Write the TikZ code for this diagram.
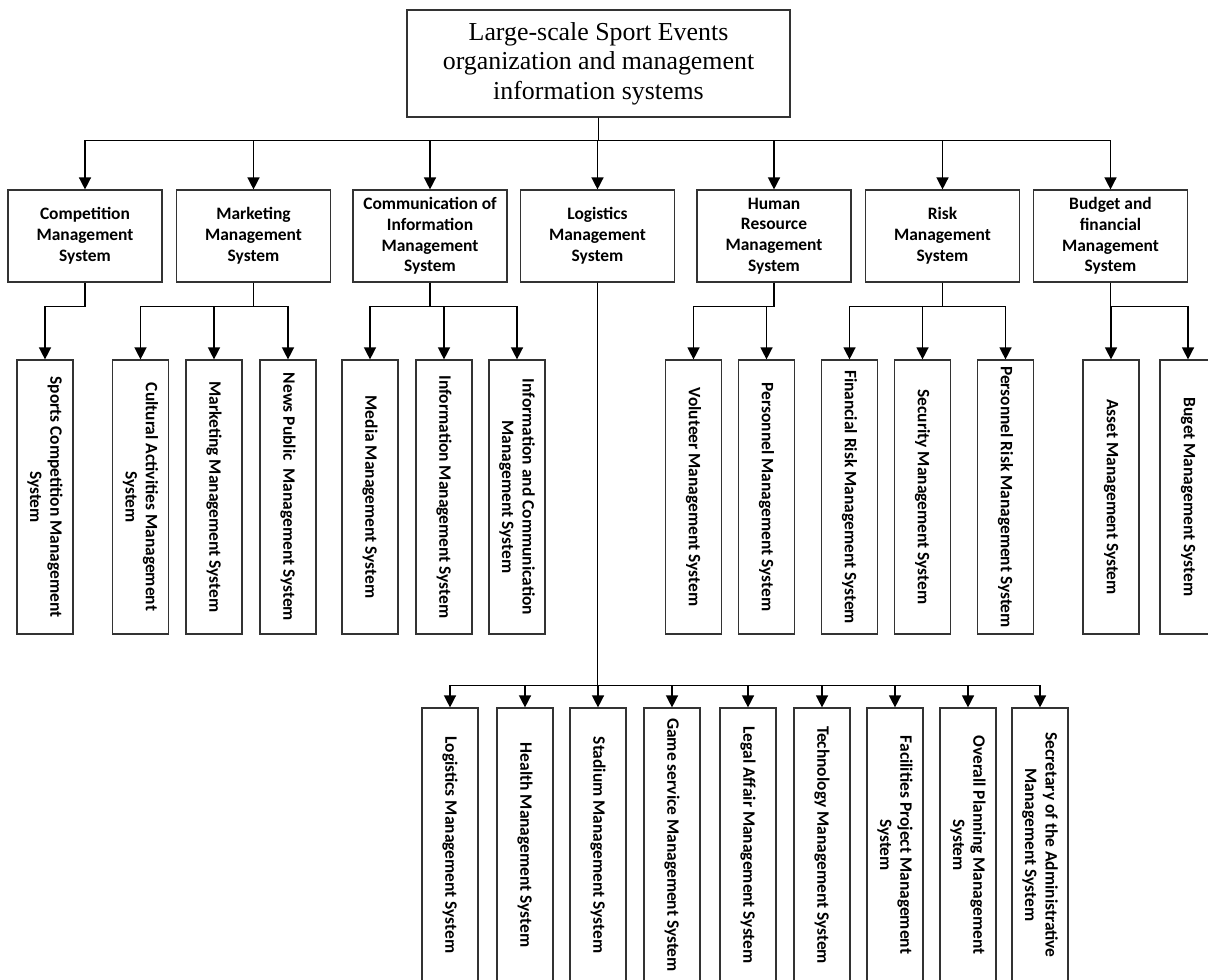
\documentclass[tikz,border=0pt]{standalone}
\usepackage{fontspec}
\setmainfont{Liberation Serif}
\newfontfamily\calibri{Carlito}
\usetikzlibrary{arrows.meta, positioning}

\begin{document}
\begin{tikzpicture}[
        x = 0.025cm, y = -0.025cm,
        every node/.style = {rectangle, draw=black!80, line width=0.8pt, align=center, inner sep=2pt},
        root/.style = {minimum width=9.575cm, minimum height=2.675cm, font=\fontsize{18.4}{21}\selectfont},
        branch/.style = {minimum width=3.85cm, minimum height=2.3cm, font=\calibri\bfseries\fontsize{12.4}{14.8}\selectfont},
        leaf/.style = {rotate=-90, minimum width=6.85cm, minimum height=1.4cm, font=\calibri\bfseries\fontsize{12.4}{14.5}\selectfont},
        line/.style = {draw, line width=1pt, -{Triangle[width=0.3cm, length=0.3cm]}}
    ]
    \useasboundingbox (0,0) rectangle (1208,979);

    % Nodes
    \node (top) [root] at (598.5,63.5) {Large-scale Sport Events\\
    organization and management\\
    information systems};

    \node (comp) [branch] at (85,236) {Competition\\ Management\\ System};
    \node (mark) [branch] at (253.5,236) {Marketing\\ Management\\ System};
    \node (comm) [branch] at (430,236) {Communication of\\ Information\\ Management\\ System};
    \node (logi) [branch] at (597.5,236) {Logistics\\ Management\\ System};
    \node (hr) [branch] at (774,236) {Human\\ Resource\\ Management\\ System};
    \node (risk) [branch] at (942.5,236) {Risk\\ Management\\ System};
    \node (budget) [branch] at (1110.5,236) {Budget and\\ financial\\ Management\\ System};

    % Leaves, upper row
    \node (sports) [leaf] at (45,497) {Sports Competition Management\\ System};
    \node (cultural) [leaf] at (140.5,497) {Cultural Activities Management\\ System};
    \node (mktsys) [leaf] at (214,497) {Marketing Management System};
    \node (news) [leaf] at (288,497) {News Public\ \ Management System};
    \node (media) [leaf] at (370,497) {Media Management System};
    \node (info) [leaf] at (444,497) {Information Management System};
    \node (infocomm) [leaf] at (517,497) {Information and Communication\\ Management System};
    \node (volunteer) [leaf] at (693.5,497) {Voluteer Management System};
    \node (personnel) [leaf] at (766.5,497) {Personnel Management System};
    \node (finrisk) [leaf] at (849.5,497) {Financial Risk Management System};
    \node (security) [leaf] at (922.5,497) {Security Management System};
    \node (persrisk) [leaf] at (1005.5,497) {Personnel Risk Management System};
    \node (asset) [leaf] at (1111,497) {Asset Management System};
    \node (buget) [leaf] at (1188,497) {Buget Management System};

    % Leaves, logistics row
    \node (logsys) [leaf] at (450,845) {Logistics Management System};
    \node (health) [leaf] at (525,845) {Health Management System};
    \node (stadium) [leaf] at (598,845) {Stadium Management System};
    \node (game) [leaf] at (672,845) {Game service Management System};
    \node (legal) [leaf] at (748,845) {Legal Affair Management System};
    \node (tech) [leaf] at (822,845) {Technology Management System};
    \node (facilities) [leaf] at (895,845) {Facilities Project Management\\ System};
    \node (overall) [leaf] at (968,845) {Overall Planning Management\\ System};
    \node (secretary) [leaf] at (1040,845) {Secretary of the Administrative\\ Management System};

    % Lines
    \foreach \n in {comp, mark, comm, logi, hr, risk, budget}
        \path [line] (top.south) -- ++(0,23) -| (\n.north);

    \path [line] (comp.south) -- ++(0,24) -| (sports.west);
    \foreach \n in {cultural, mktsys, news}
        \path [line] (mark.south) -- ++(0,24) -| (\n.west);
    \foreach \n in {media, info, infocomm}
        \path [line] (comm.south) -- ++(0,24) -| (\n.west);
    \foreach \n in {volunteer, personnel}
        \path [line] (hr.south) -- ++(0,24) -| (\n.west);
    \foreach \n in {finrisk, security, persrisk}
        \path [line] (risk.south) -- ++(0,24) -| (\n.west);
    \foreach \n in {asset, buget}
        \path [line] (budget.south) -- ++(0,24) -| (\n.west);

    % Logistics down to the lower row
    \foreach \n in {logsys, health, stadium, game, legal, tech, facilities, overall, secretary}
        \path [line] (logi.south) -- ++(0,403) -| (\n.west);

\end{tikzpicture}
\end{document}
